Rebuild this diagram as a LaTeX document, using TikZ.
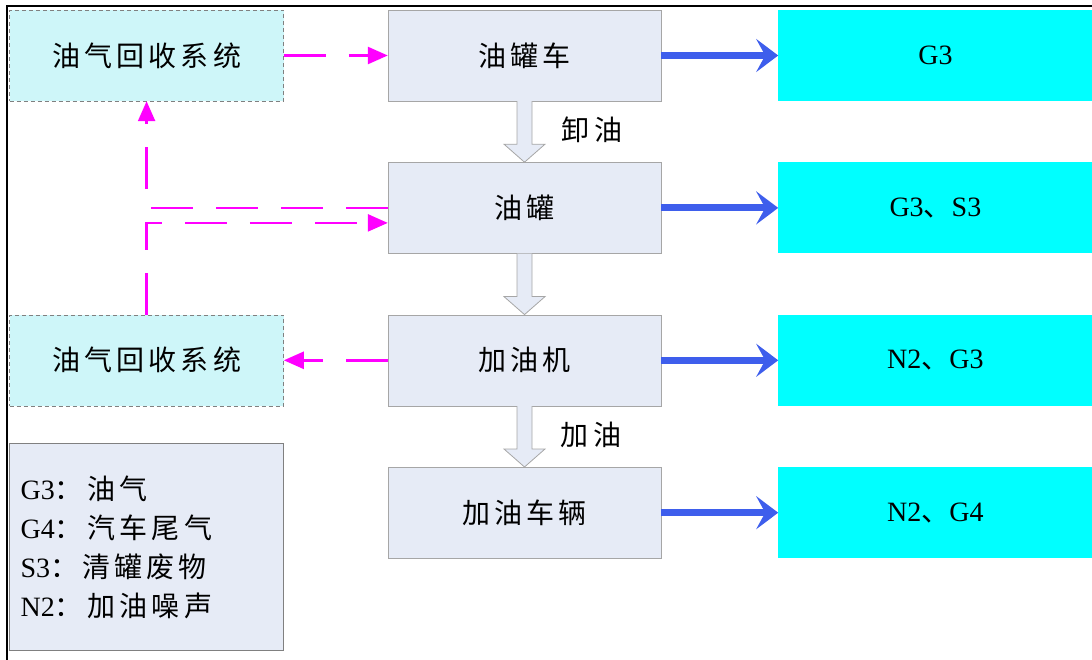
\documentclass[tikz,border=0pt]{standalone}
\usepackage{fontspec}
\setmainfont{Liberation Serif}
\newfontfamily\cjk{Noto Sans CJK SC}[LetterSpace=15]
\usepackage{tikz}
\usetikzlibrary{positioning, arrows.meta, calc}
\definecolor{procfill}{RGB}{230,235,246}
\definecolor{recfill}{RGB}{206,246,249}
\definecolor{flowblue}{RGB}{62,94,236}
\definecolor{outcyan}{RGB}{0,255,255}
\definecolor{vapourpink}{RGB}{255,0,255}

\begin{document}
\begin{tikzpicture}[
  x=1pt, y=-1pt,
  font=\fontsize{28}{34}\selectfont,
  node distance=61pt and 104pt,
  proc/.style={
    draw=gray!70, fill=procfill,
    minimum width=273pt, minimum height=91pt, inner sep=0pt
  },
  rec/.style={proc, draw=gray, fill=recfill, minimum width=274pt,
    dash pattern=on 4pt off 3pt},
  outbox/.style={fill=outcyan, minimum width=314pt, minimum height=91pt, inner sep=0pt},
  keybox/.style={proc, draw=gray, line width=1.2pt, minimum width=274pt,
    minimum height=207pt, text width=252pt, inner xsep=11pt, align=left,
    font=\fontsize{28}{39}\selectfont},
  emit/.style={draw=flowblue, line width=7pt,
    -{Stealth[length=22pt, width=33pt, inset=9pt]}},
  vapour/.style={draw=vapourpink, line width=2.5pt,
    dash pattern=on 42pt off 23pt,
    -{Triangle[length=20pt, width=17pt]}},
  hollow/.style={draw=gray!70, fill=procfill, line width=0.8pt}
]
\useasboundingbox (0,0) rectangle (1092,660);
\draw[line width=1.5pt] (7,660) -- (7,6) -- (1092,6);

% process chain
\node[proc] (tanker) at (524.5,55.5) {\cjk 油罐车};
\node[proc, below=of tanker] (tank) {\cjk 油罐};
\node[proc, below=of tank] (disp) {\cjk 加油机};
\node[proc, below=of disp] (car) {\cjk 加油车辆};

% emissions
\node[outbox, right=117pt of tanker] (o1) {G3};
\node[outbox, right=117pt of tank] (o2) {G3{\cjk 、}S3};
\node[outbox, right=117pt of disp] (o3) {N2{\cjk 、}G3};
\node[outbox, right=117pt of car] (o4) {N2{\cjk 、}G4};

% vapour recovery
\node[rec, left=of tanker] (rec1) {\cjk 油气回收系统};
\node[rec, left=of disp] (rec2) {\cjk 油气回收系统};

\node[keybox, below=37pt of rec2] (key) {G3{\cjk ：\,油气}\\G4{\cjk ：\,汽车尾气}\\S3{\cjk ：清罐废物}\\N2{\cjk ：\,加油噪声}};

\foreach \a/\b in {tanker/tank, tank/disp, disp/car}
  \draw[hollow] ([xshift=-7.5pt]\a.south) -- ([xshift=-7.5pt,yshift=18pt]\b.north)
    -- ([xshift=-20.5pt,yshift=18pt]\b.north) -- (\b.north)
    -- ([xshift=20.5pt,yshift=18pt]\b.north) -- ([xshift=7.5pt,yshift=18pt]\b.north)
    -- ([xshift=7.5pt]\a.south);
\node (unload) at (592,130) {\cjk 卸油};
\node (refuel) at (591,435) {\cjk 加油};

\foreach \p/\o in {tanker/o1, tank/o2, disp/o3, car/o4}
  \draw[emit] (\p) -- (\o);

\draw[vapour] (rec1) -- (tanker);
\draw[vapour] (tank.west) -| (rec1.south);
\draw[vapour] (rec2.north) |- ([yshift=-15pt]tank.west);
\draw[vapour] (disp) -- (rec2);
\end{tikzpicture}
\end{document}
